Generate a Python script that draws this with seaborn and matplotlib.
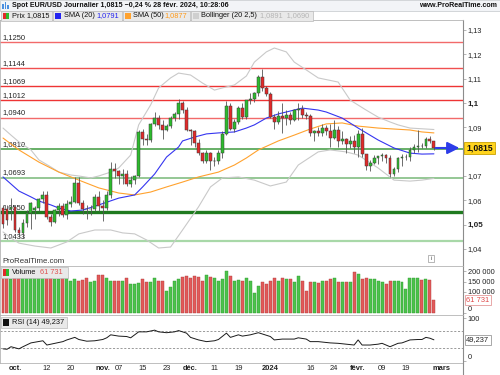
import numpy as np
import pandas as pd
import matplotlib
matplotlib.use("Agg")
import matplotlib.pyplot as plt
import seaborn as sns
from matplotlib.patches import Rectangle
from matplotlib.lines import Line2D
from matplotlib.transforms import blended_transform_factory

sns.set_theme(style="white")
plt.rcParams["font.family"] = ["Liberation Sans", "DejaVu Sans"]

# ------------------------------------------------------------------ data
HOLIDAYS = ("12-25", "01-01")
dates = [d for d in pd.bdate_range("2023-09-27", "2024-02-28")
         if d.strftime("%m-%d") not in HOLIDAYS]

opens = [1.0570, 1.0565, 1.0565, 1.0573, 1.0478, 1.0466, 1.0505, 1.0548, 1.0560, 1.0568,
         1.0604, 1.0620, 1.0530, 1.0510, 1.0560, 1.0575, 1.0540, 1.0585, 1.0595, 1.0670,
         1.0590, 1.0566, 1.0563, 1.0565, 1.0613, 1.0575, 1.0567, 1.0621, 1.0728, 1.0720,
         1.0699, 1.0710, 1.0667, 1.0683, 1.0700, 1.0881, 1.0850, 1.0849, 1.0912, 1.0940,
         1.0909, 1.0887, 1.0904, 1.0940, 1.0954, 1.0998, 1.0971, 1.0888, 1.0884, 1.0835,
         1.0795, 1.0763, 1.0794, 1.0762, 1.0763, 1.0793, 1.0874, 1.0988, 1.0894, 1.0923,
         1.0981, 1.0941, 1.1012, 1.1015, 1.1042, 1.1107, 1.1060, 1.1039, 1.0942, 1.0920,
         1.0947, 1.0940, 1.0950, 1.0930, 1.0972, 1.0975, 1.0950, 1.0948, 1.0877, 1.0885,
         1.0875, 1.0897, 1.0885, 1.0855, 1.0887, 1.0843, 1.0853, 1.0832, 1.0845, 1.0818,
         1.0874, 1.0789, 1.0743, 1.0755, 1.0772, 1.0781, 1.0785, 1.0772, 1.0708, 1.0727,
         1.0773, 1.0777, 1.0778, 1.0807, 1.0820, 1.0823, 1.0822, 1.0851, 1.0842]
highs = [1.0580, 1.0580, 1.0609, 1.0576, 1.0490, 1.0525, 1.0560, 1.0595, 1.0578, 1.0610,
         1.0640, 1.0640, 1.0545, 1.0565, 1.0590, 1.0590, 1.0600, 1.0618, 1.0695, 1.0695,
         1.0600, 1.0580, 1.0580, 1.0625, 1.0640, 1.0600, 1.0640, 1.0757, 1.0755, 1.0725,
         1.0728, 1.0725, 1.0700, 1.0705, 1.0887, 1.0895, 1.0872, 1.0918, 1.0965, 1.0950,
         1.0930, 1.0915, 1.0945, 1.0965, 1.1017, 1.1010, 1.0985, 1.0895, 1.0888, 1.0850,
         1.0800, 1.0805, 1.0800, 1.0780, 1.0805, 1.0885, 1.1009, 1.1000, 1.0935, 1.0988,
         1.1001, 1.1013, 1.1040, 1.1045, 1.1115, 1.1140, 1.1070, 1.1045, 1.0955, 1.0968,
         1.0998, 1.0970, 1.0961, 1.0975, 1.0998, 1.0990, 1.0965, 1.0955, 1.0890, 1.0900,
         1.0915, 1.0910, 1.0915, 1.0932, 1.0905, 1.0885, 1.0855, 1.0865, 1.0870, 1.0888,
         1.0898, 1.0790, 1.0765, 1.0785, 1.0783, 1.0795, 1.0790, 1.0785, 1.0735, 1.0780,
         1.0790, 1.0790, 1.0820, 1.0830, 1.0889, 1.0837, 1.0860, 1.0865, 1.0845]
lows = [1.0488, 1.0500, 1.0520, 1.0470, 1.0448, 1.0446, 1.0490, 1.0482, 1.0525, 1.0555,
        1.0590, 1.0525, 1.0495, 1.0505, 1.0535, 1.0530, 1.0525, 1.0572, 1.0590, 1.0580,
        1.0545, 1.0522, 1.0540, 1.0555, 1.0555, 1.0516, 1.0560, 1.0610, 1.0690, 1.0667,
        1.0665, 1.0660, 1.0655, 1.0665, 1.0695, 1.0828, 1.0828, 1.0840, 1.0905, 1.0895,
        1.0852, 1.0885, 1.0897, 1.0925, 1.0935, 1.0960, 1.0885, 1.0828, 1.0820, 1.0785,
        1.0755, 1.0755, 1.0723, 1.0743, 1.0750, 1.0772, 1.0870, 1.0888, 1.0880, 1.0912,
        1.0933, 1.0935, 1.0995, 1.1005, 1.1030, 1.1050, 1.1030, 1.0940, 1.0892, 1.0915,
        1.0877, 1.0910, 1.0915, 1.0925, 1.0930, 1.0938, 1.0935, 1.0865, 1.0845, 1.0865,
        1.0865, 1.0870, 1.0820, 1.0850, 1.0820, 1.0830, 1.0795, 1.0815, 1.0796, 1.0780,
        1.0780, 1.0723, 1.0722, 1.0750, 1.0750, 1.0760, 1.0755, 1.0695, 1.0700, 1.0715,
        1.0740, 1.0765, 1.0760, 1.0795, 1.0800, 1.0815, 1.0815, 1.0835, 1.0805]
closes = [1.0502, 1.0520, 1.0573, 1.0478, 1.0466, 1.0505, 1.0548, 1.0588, 1.0568, 1.0604,
          1.0620, 1.0530, 1.0510, 1.0560, 1.0575, 1.0540, 1.0585, 1.0595, 1.0670, 1.0590,
          1.0566, 1.0563, 1.0565, 1.0613, 1.0575, 1.0567, 1.0621, 1.0728, 1.0720, 1.0699,
          1.0710, 1.0667, 1.0683, 1.0700, 1.0881, 1.0850, 1.0849, 1.0912, 1.0940, 1.0909,
          1.0887, 1.0904, 1.0940, 1.0954, 1.0998, 1.0971, 1.0888, 1.0884, 1.0835, 1.0795,
          1.0763, 1.0794, 1.0762, 1.0763, 1.0793, 1.0874, 1.0988, 1.0894, 1.0923, 1.0981,
          1.0941, 1.1012, 1.1015, 1.1042, 1.1107, 1.1060, 1.1039, 1.0942, 1.0920, 1.0947,
          1.0940, 1.0950, 1.0930, 1.0972, 1.0975, 1.0950, 1.0948, 1.0877, 1.0885, 1.0875,
          1.0897, 1.0885, 1.0855, 1.0887, 1.0843, 1.0853, 1.0832, 1.0845, 1.0818, 1.0874,
          1.0789, 1.0743, 1.0755, 1.0772, 1.0781, 1.0785, 1.0772, 1.0708, 1.0727, 1.0773,
          1.0777, 1.0778, 1.0807, 1.0820, 1.0823, 1.0822, 1.0851, 1.0842, 1.0815]
volumes_k = [170, 173, 162, 165, 173, 168, 168, 168, 173, 176,
             173, 168, 168, 162, 162, 168, 173, 152, 162, 152,
             157, 168, 146, 152, 181, 181, 165, 152, 154, 154,
             154, 165, 138, 138, 144, 160, 147, 147, 165, 154,
             154, 105, 125, 152, 162, 173, 176, 165, 176, 173,
             152, 181, 173, 165, 152, 162, 200, 176, 152, 157,
             152, 168, 152, 97, 130, 146, 138, 154, 165, 154,
             165, 162, 160, 146, 178, 154, 105, 146, 146, 141,
             154, 154, 162, 165, 147, 147, 150, 150, 194, 184,
             162, 165, 160, 160, 154, 146, 136, 154, 152, 152,
             150, 114, 168, 168, 165, 157, 160, 155, 61.731]

# indicator lines (trading-day index, value)
sma20_idx = [0, 2, 4, 7, 9, 12, 14, 17, 20, 24, 29, 33, 35, 38, 41, 44, 45, 48, 51, 54,
             58, 61, 63, 66, 69, 73, 75, 79, 81, 85, 89, 94, 98, 102, 105, 108]
sma20_val = [1.0696, 1.0667, 1.0638, 1.0614, 1.0597, 1.0581, 1.0568, 1.0556, 1.0560, 1.0581,
             1.0609, 1.0622, 1.0655, 1.0708, 1.0778, 1.0819, 1.0844, 1.0860, 1.0873, 1.0877,
             1.0881, 1.0897, 1.0910, 1.0938, 1.0955, 1.0971, 1.0979, 1.0971, 1.0963, 1.0938,
             1.0897, 1.0848, 1.0815, 1.0794, 1.0790, 1.0791]
sma50_idx = [0, 4, 9, 14, 19, 24, 29, 33, 37, 41, 45, 49, 54, 58, 61, 64, 69, 73, 77, 81,
             85, 89, 94, 98, 102, 105, 108]
sma50_val = [1.0856, 1.0807, 1.0757, 1.0716, 1.0683, 1.0651, 1.0630, 1.0622, 1.0634, 1.0655,
             1.0675, 1.0696, 1.0716, 1.0745, 1.0774, 1.0807, 1.0844, 1.0868, 1.0893, 1.0914,
             1.0918, 1.0905, 1.0897, 1.0893, 1.0889, 1.0881, 1.0877]
boll_up_idx = [0, 2, 4, 7, 9, 12, 14, 17, 19, 22, 24, 27, 29, 32, 34, 37, 39, 42, 44, 47,
               50, 53, 55, 58, 61, 63, 66, 68, 71, 73, 76, 79, 84, 87, 91, 94, 97, 99, 102, 108]
boll_up_val = [1.0897, 1.0868, 1.0840, 1.0807, 1.0766, 1.0737, 1.0716, 1.0704, 1.0700, 1.0692,
               1.0700, 1.0716, 1.0733, 1.0786, 1.0910, 1.0992, 1.1062, 1.1103, 1.1123, 1.1115,
               1.1082, 1.1053, 1.1062, 1.1074, 1.1111, 1.1168, 1.1210, 1.1226, 1.1210, 1.1168,
               1.1136, 1.1103, 1.1086, 1.1012, 1.0971, 1.0942, 1.0922, 1.0910, 1.0897, 1.0891]
boll_lo_idx = [0, 2, 4, 8, 12, 16, 19, 23, 27, 30, 33, 36, 39, 42, 45, 49, 52, 55, 59, 63,
               67, 71, 74, 79, 82, 86, 89, 94, 98, 102, 105, 108]
boll_lo_val = [1.0470, 1.0445, 1.0424, 1.0412, 1.0404, 1.0429, 1.0462, 1.0478, 1.0478, 1.0466,
               1.0462, 1.0437, 1.0404, 1.0408, 1.0478, 1.0573, 1.0655, 1.0692, 1.0696, 1.0683,
               1.0659, 1.0675, 1.0745, 1.0799, 1.0807, 1.0799, 1.0786, 1.0733, 1.0683, 1.0679,
               1.0683, 1.0690]
rsi_idx = [0, 1, 2, 4, 5, 7, 10, 11, 13, 15, 16, 18, 19, 21, 23, 25, 26, 27, 29, 31,
           32, 34, 35, 36, 38, 39, 41, 43, 44, 46, 47, 49, 51, 53, 54, 56, 57, 59, 60, 62,
           64, 65, 67, 68, 70, 73, 74, 76, 77, 79, 82, 84, 86, 88, 89, 90, 92, 94, 95, 96,
           97, 99, 100, 102, 104, 105, 106, 107, 108]
rsi_val = [28, 27, 33, 28, 33, 42, 47, 37, 41, 45, 49, 55, 50, 46, 47, 50, 54, 61, 58, 57,
           54, 68, 68, 68, 72, 68, 66, 68, 71, 65, 55, 49, 45, 47, 50, 65, 55, 61, 58, 61,
           66, 63, 57, 49, 51, 51, 54, 51, 45, 45, 42, 41, 39, 37, 49, 37, 37, 39, 41, 37,
           33, 41, 42, 49, 50, 50, 55, 53, 49.237]

levels_red = [1.1250, 1.1144, 1.1069, 1.1012, 1.0940]
levels_green = [1.0810, 1.0693, 1.0550, 1.0433]

price_ticks = [1.04, 1.05, 1.06, 1.07, 1.08, 1.09, 1.10, 1.11, 1.12, 1.13]
vol_ticks = [0, 100000, 150000, 200000]
rsi_ticks = [0, 100]
tick_dates = ["2023-10-02", "2023-10-12", "2023-10-20", "2023-11-01", "2023-11-07",
              "2023-11-15", "2023-11-23", "2023-12-01", "2023-12-11", "2023-12-19",
              "2024-01-02", "2024-01-16", "2024-01-24", "2024-02-01", "2024-02-09",
              "2024-02-19", "2024-03-01"]
tick_labels = ["oct.", "12", "20", "nov.", "07", "15", "23", "déc.", "11", "19",
               "2024", "16", "24", "févr.", "09", "19", "mars"]
bold_labels = {"oct.", "nov.", "déc.", "2024", "févr.", "mars"}

title = "Spot EUR/USD Journalier 1,0815 \u22120,24 % 28 févr. 2024, 10:28:06"

# ------------------------------------------------------------------ helpers
W, H = 500, 375


def fx(px):
    return px / W


def fy(py):
    return 1 - py / H


def fmt(v, n):
    return f"{v:.{n}f}".replace(".", ",")


o = np.array(opens)
h = np.array(highs)
l = np.array(lows)
c = np.array(closes)
v = np.array(volumes_k) * 1000
idx = np.arange(len(dates))
up = c >= o

full_cal = [d for d in pd.bdate_range("2023-09-27", "2024-03-01")
            if d.strftime("%m-%d") not in HOLIDAYS]
cal_pos = {d.strftime("%Y-%m-%d"): i for i, d in enumerate(full_cal)}
tick_pos = [cal_pos[t] for t in tick_dates]

GREEN = "#2dbb2d"
RED = "#e22a2a"
SPINE = "#b4b4b4"

fig = plt.figure(figsize=(5, 3.75), dpi=100, facecolor="white")

ax = fig.add_axes([0, fy(266), fx(463), (266 - 20) / H])
axv = fig.add_axes([0, fy(315), fx(463), (315 - 266) / H], sharex=ax)
axr = fig.add_axes([0, fy(363), fx(463), (363 - 315) / H], sharex=ax)

XMIN, XMAX = -3 / 3.99, 460 / 3.99
ax.set_xlim(XMIN, XMAX)
ax.set_ylim(1.13 - 236 / 2433, 1.13 + 10 / 2433)
axv.set_ylim(-2 / 42 * 200000, 47 / 42 * 200000)
axr.set_ylim(30 - 15 / 0.425, 30 + 33 / 0.425)

for a in (ax, axv, axr):
    a.set_facecolor("white")
    for s in a.spines.values():
        s.set_color(SPINE)
        s.set_linewidth(0.6)
    a.spines["right"].set_color("#8c8c8c")
    a.spines["right"].set_linewidth(0.8)
    a.yaxis.tick_right()
    a.tick_params(axis="y", which="major", length=2, width=0.5, color="#999999",
                  pad=1.5, labelsize=5.3, labelcolor="#222222", direction="out", right=True)
    a.grid(False)

# ---- level lines
red_cols = ["#f26a6a", "#f05050", "#ee3434", "#ee3434", "#f26a6a"]
for lvl, col in zip(levels_red, red_cols):
    ax.axhline(lvl, color=col, lw=1.0, zorder=1)
green_cols = ["#3f9a3f", "#78b878", "#1f7a1f", "#a8d8a8"]
green_lw = [1.1, 1.1, 2.4, 1.6]
for lvl, col, lw in zip(levels_green, green_cols, green_lw):
    ax.axhline(lvl, color=col, lw=lw, zorder=1)
btrans = blended_transform_factory(ax.transAxes, ax.transData)
for lvl in levels_red + levels_green:
    ax.annotate(fmt(lvl, 4), xy=(0, lvl), xycoords=btrans, xytext=(1.5, 1.0),
                textcoords="offset points", ha="left", va="bottom",
                fontsize=5.4, color="#222222", zorder=2)

# ---- indicators
line_kw = dict(estimator=None, sort=False, legend=False)
sns.lineplot(x=boll_up_idx, y=boll_up_val, ax=ax, color="#c9c9c9", lw=0.8, zorder=2, **line_kw)
sns.lineplot(x=boll_lo_idx, y=boll_lo_val, ax=ax, color="#c9c9c9", lw=0.8, zorder=2, **line_kw)
sns.lineplot(x=sma50_idx, y=sma50_val, ax=ax, color="#ffa22e", lw=0.8, zorder=2, **line_kw)
sns.lineplot(x=sma20_idx, y=sma20_val, ax=ax, color="#3535f0", lw=0.8, zorder=2, **line_kw)

# ---- candles
ax.vlines(idx, l, h, color="#555555", lw=0.6, zorder=3)
body = np.maximum(np.abs(c - o), 0.00012)
ax.bar(idx, body, bottom=np.minimum(o, c), width=0.72,
       color=np.where(up, GREEN, RED), edgecolor="#3a3a3a", linewidth=0.35, zorder=4)

# ---- last price arrow + label
last_i, last_c = idx[-1], c[-1]
ax.annotate("", xy=(last_i + 6.4, last_c), xytext=(last_i + 0.4, last_c),
            arrowprops=dict(arrowstyle="-|>,head_length=0.6,head_width=0.3",
                            color="#2d3de8", lw=1.5, shrinkA=0, shrinkB=0),
            annotation_clip=False, zorder=6)
ax.annotate(fmt(last_c, 4), xy=(1, last_c), xycoords=btrans, xytext=(2.2, 0),
            textcoords="offset points", ha="left", va="center", fontsize=6.2,
            fontweight="bold", color="#111111", zorder=10, annotation_clip=False,
            bbox=dict(boxstyle="square,pad=0.22", fc="#ffd41e", ec="#c9a200", lw=0.6))

ax.set_yticks(price_ticks)
plabels = []
for t in price_ticks:
    if abs(t - 1.10) < 1e-9:
        plabels.append("1,1")
    elif abs(t - round(last_c, 2)) < 1e-9:
        plabels.append("")          # hidden under the last-price box
    else:
        plabels.append(fmt(t, 2))
ax.set_yticklabels(plabels)
for t, lab in zip(price_ticks, ax.get_yticklabels()):
    if abs(t - 1.10) < 1e-9 or abs(t - 1.05) < 1e-9:
        lab.set_fontweight("bold")
        lab.set_fontsize(5.8)
ax.tick_params(axis="x", bottom=False, labelbottom=False, length=0)

# ---- volume
axv.bar(idx, v, width=0.75, color=np.where(up, "#4cc24c", "#e25a5a"),
        edgecolor=np.where(up, "#2e9a2e", "#b03a3a"), linewidth=0.3, zorder=3)
axv.set_yticks(vol_ticks)
axv.set_yticklabels(["0" if t == 0 else f"{t:,}".replace(",", " ") for t in vol_ticks])
axv.get_yticklabels()[0].set_va("bottom")
axv.tick_params(axis="x", bottom=False, labelbottom=False, length=0)
vtrans = blended_transform_factory(axv.transAxes, axv.transData)
axv.annotate(f"{int(round(v[-1])):,}".replace(",", " "), xy=(1, v[-1]), xycoords=vtrans,
             xytext=(2.2, 0), textcoords="offset points", ha="left", va="center",
             fontsize=5.4, color="#e04848", zorder=10, annotation_clip=False,
             bbox=dict(boxstyle="square,pad=0.2", fc="white", ec="#e49a9a", lw=0.6))

# ---- RSI
for lvl in (70, 30):
    axr.axhline(lvl, color="#8a8a8a", lw=0.6, ls=(0, (2.5, 2)), zorder=1)
sns.lineplot(x=rsi_idx, y=rsi_val, ax=axr, color="#1a1a1a", lw=0.7, zorder=3, **line_kw)
axr.set_yticks(rsi_ticks)
axr.set_yticklabels([str(t) for t in rsi_ticks])
axr.get_yticklabels()[0].set_va("bottom")
rtrans = blended_transform_factory(axr.transAxes, axr.transData)
axr.annotate(fmt(rsi_val[-1], 3), xy=(1, rsi_val[-1]), xycoords=rtrans, xytext=(2.2, 0),
             textcoords="offset points", ha="left", va="center", fontsize=5.4,
             color="#222222", zorder=10, annotation_clip=False,
             bbox=dict(boxstyle="square,pad=0.2", fc="white", ec="#9a9a9a", lw=0.6))

axr.set_xticks(tick_pos)
axr.set_xticklabels(tick_labels)
axr.tick_params(axis="x", bottom=True, length=0, labelbottom=True, pad=1.2, labelsize=5.4,
                labelcolor="#222222")
for lab in axr.get_xticklabels():
    if lab.get_text() in bold_labels:
        lab.set_fontweight("bold")
for a in (ax, axv, axr):
    a.set_xlabel("")
    a.set_ylabel("")
ax.set_xlim(XMIN, XMAX)

# ---- figure decorations (title bar, legends)
def frect(x0, y0, x1, y1, fc, ec="none", lw=0.5, z=5):
    fig.add_artist(Rectangle((fx(x0), fy(y1)), (x1 - x0) / W, (y1 - y0) / H,
                             transform=fig.transFigure, fc=fc, ec=ec, lw=lw, zorder=z))


def ftext(x, y, s, **kw):
    kw.setdefault("fontsize", 5.3)
    kw.setdefault("va", "center")
    kw.setdefault("color", "#111111")
    fig.text(fx(x), fy(y), s, zorder=7, **kw)


frect(0, 0, 500, 10.5, "#f2f4f7", "#c4c8cc", 0.5)
for bx, bh in ((2, 4), (4.5, 6), (7, 3)):
    frect(bx, 8.5 - bh, bx + 1.6, 8.5, "#4a8fe0", z=6)
ftext(12, 5.2, title, fontweight="bold", fontsize=5.1)
ftext(497, 5.2, "www.ProRealTime.com", fontweight="bold", fontsize=5.1, ha="right")

boxes = [(1, 52), (53, 122), (123, 190), (191, 313)]
for x0, x1 in boxes:
    frect(x0, 11, x1, 20.5, "#e9e9e9", "#b9b9b9", 0.5)
frect(3, 12.5, 6, 19, RED, z=6)
frect(6, 12.5, 9, 19, GREEN, z=6)
frect(55, 12.5, 61, 19, "#2424f0", z=6)
frect(125, 12.5, 131, 19, "#ffa22e", z=6)
frect(193, 12.5, 199, 19, "#cfcfcf", z=6)
ftext(12, 15.8, "Prix " + fmt(c[-1], 4))
ftext(64, 15.8, "SMA (20)")
ftext(96, 15.8, fmt(sma20_val[-1], 4), color="#2424f0")
ftext(133, 15.8, "SMA (50)")
ftext(164, 15.8, fmt(sma50_val[-1], 4), color="#ff9a1a")
ftext(201, 15.8, "Bollinger (20 2,5)")
ftext(260, 15.8, fmt(boll_up_val[-1], 4) + "  " + fmt(boll_lo_val[-1], 4), color="#b5b5b5")

ftext(2, 261.5, "ProRealTime.com", fontsize=5.6, color="#333333")
frect(428, 255, 434, 262, "white", "#9a9a9a", 0.5)
ftext(431, 258.6, "i", fontsize=4.5, ha="center", color="#555555")

frect(1, 267, 68, 277.5, "#e9e9e9", "#b9b9b9", 0.5)
frect(3, 269, 6, 276, RED, z=6)
frect(6, 269, 9, 276, GREEN, z=6)
ftext(12, 272.3, "Volume")
ftext(40, 272.3, f"{int(round(v[-1])):,}".replace(",", " "), color="#e05050")

frect(1, 317, 67, 327.5, "#e9e9e9", "#b9b9b9", 0.5)
frect(3, 319, 9, 326, "#111111", z=6)
ftext(12, 322.3, "RSI (14) " + fmt(rsi_val[-1], 3))

fig.add_artist(Line2D([fx(463), fx(463)], [0, fy(363)], transform=fig.transFigure,
                      color="#8c8c8c", lw=0.8, zorder=8))

fig.savefig("out.png", dpi=100, facecolor="white")
